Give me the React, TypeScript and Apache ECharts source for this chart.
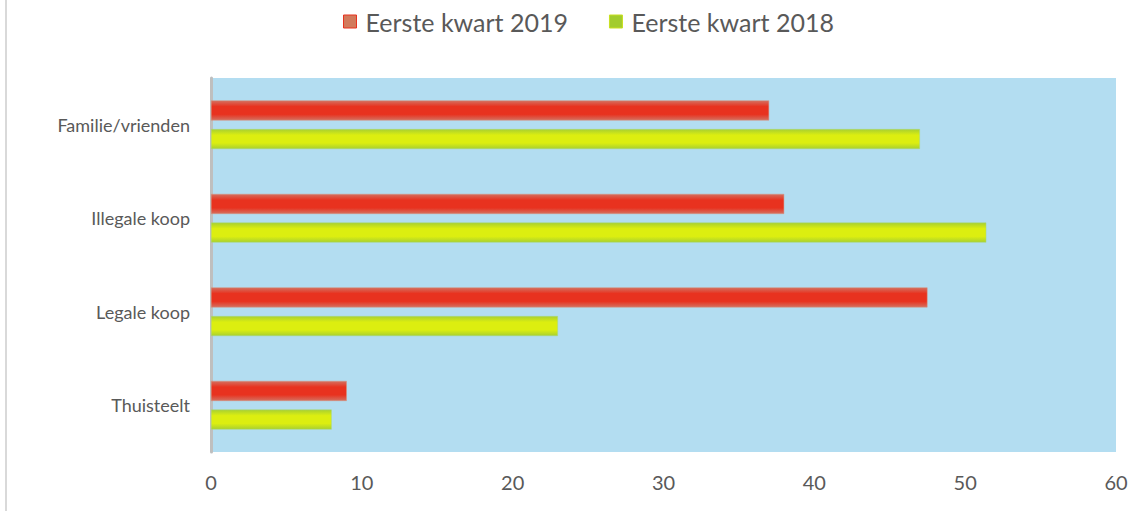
import React, { useEffect, useRef } from "react";
import * as echarts from "echarts";

const categories = ["Familie/vrienden", "Illegale koop", "Legale koop", "Thuisteelt"];
const seriesNames = ["Eerste kwart 2019", "Eerste kwart 2018"];
const values2019 = [37, 38, 47.5, 9];
const values2018 = [47, 51.4, 23, 8];
const xTicks = { min: 0, max: 60, interval: 10 };

const FONT = "Lato, 'Open Sans', sans-serif";
const TXT = "#595959";

function grad(edge: string, mid: string) {
  return new echarts.graphic.LinearGradient(0, 0, 0, 1, [
    { offset: 0, color: edge },
    { offset: 0.3, color: mid },
    { offset: 0.7, color: mid },
    { offset: 1, color: edge },
  ]);
}

export default function App() {
  const ref = useRef<HTMLDivElement>(null);
  useEffect(() => {
    if (!ref.current) return;
    const chart = echarts.init(ref.current, undefined, { renderer: "svg" });
    chart.setOption({
      animation: false,
      backgroundColor: "#ffffff",
      textStyle: { fontFamily: FONT },
      graphic: [
        {
          type: "rect",
          shape: { x: 5, y: 0, width: 2, height: 511 },
          style: { fill: "#d9d9d9" },
          silent: true,
        },
      ],
      legend: {
        top: 4,
        left: 338,
        itemWidth: 13,
        itemHeight: 13,
        itemGap: 41,
        icon: "rect",
        textStyle: { fontSize: 25, color: TXT, fontFamily: FONT, padding: [0, 0, 0, 4] },
        data: [
          { name: seriesNames[0], itemStyle: { color: "#d27a5c", borderColor: "#e8321f", borderWidth: 1 } },
          { name: seriesNames[1], itemStyle: { color: "#a2cc2e", borderColor: "#c8e020", borderWidth: 1 } },
        ],
      },
      grid: {
        left: 211,
        right: 32,
        top: 78,
        bottom: 59,
        show: true,
        backgroundColor: "#b3ddf1",
        borderWidth: 0,
        containLabel: false,
        outerBoundsMode: "none",
      },
      xAxis: {
        type: "value",
        min: xTicks.min,
        max: xTicks.max,
        interval: xTicks.interval,
        splitLine: { show: false },
        axisLine: { show: false },
        axisTick: { show: false },
        axisLabel: { color: TXT, fontSize: 20, margin: 20, fontFamily: FONT },
      },
      yAxis: {
        type: "category",
        data: categories,
        inverse: true,
        axisLine: { show: true, lineStyle: { color: "#bfbfbf", width: 3 } },
        axisTick: { show: false },
        axisLabel: { color: TXT, fontSize: 18, margin: 21, fontFamily: FONT },
      },
      series: [
        {
          name: seriesNames[0],
          type: "bar",
          data: values2019,
          barWidth: 20,
          barGap: "43%",
          itemStyle: { color: grad("#d47060", "#e8321f"), borderColor: "#d9907a", borderWidth: 0.5 },
        },
        {
          name: seriesNames[1],
          type: "bar",
          data: values2018,
          barWidth: 20,
          barGap: "43%",
          itemStyle: { color: grad("#a8d030", "#dcee10"), borderColor: "#a8d880", borderWidth: 0.5 },
        },
      ],
    });
    return () => chart.dispose();
  }, []);
  return (
    <div
      ref={ref}
      style={{ position: "fixed", left: 0, top: 0, width: 1148, height: 511 }}
    />
  );
}
